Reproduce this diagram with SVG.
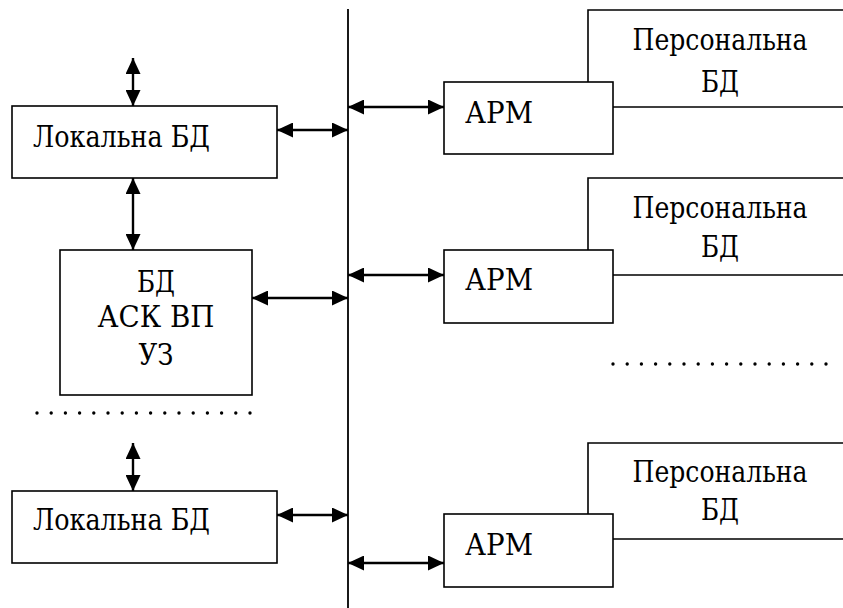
<svg xmlns="http://www.w3.org/2000/svg" width="843" height="608" viewBox="0 0 843 608">
  <style>
    .box { fill: #ffffff; stroke: #000000; stroke-width: 1.6; }
    .open { fill: none; stroke: #000000; stroke-width: 1.6; }
    .link { stroke: #000000; stroke-width: 2.4; marker-start: url(#head); marker-end: url(#head); }
    .bus { stroke: #000000; stroke-width: 1.8; }
    .dots { stroke: #000000; stroke-width: 3.4; stroke-linecap: round; stroke-dasharray: 0 14.2; }
    .lbl { font-family: "DejaVu Serif", serif; font-size: 30px; fill: #000000; }
    .c { text-anchor: middle; }
  </style>
  <defs>
    <marker id="head" viewBox="0 0 16 15" refX="16" refY="7.5" markerWidth="16" markerHeight="15" markerUnits="userSpaceOnUse" orient="auto-start-reverse">
      <path d="M0,0 L16,7.5 L0,15 Z" fill="#000000"/>
    </marker>
  </defs>
  <rect width="843" height="608" fill="#ffffff"/>

  <!-- shared bus -->
  <line class="bus" x1="348" y1="9" x2="348" y2="608"/>

  <!-- personal databases (open to the right) -->
  <g id="personal-db-1">
    <path class="open" d="M588,82 V10 H843 M613,107 H843"/>
    <text class="lbl c" x="720" y="50" textLength="175" lengthAdjust="spacingAndGlyphs">Персональна</text>
    <text class="lbl c" x="720" y="92" textLength="38" lengthAdjust="spacingAndGlyphs">БД</text>
  </g>
  <g id="personal-db-2">
    <path class="open" d="M588,250 V178 H843 M613,275 H843"/>
    <text class="lbl c" x="720" y="218" textLength="175" lengthAdjust="spacingAndGlyphs">Персональна</text>
    <text class="lbl c" x="720" y="257" textLength="38" lengthAdjust="spacingAndGlyphs">БД</text>
  </g>
  <g id="personal-db-3">
    <path class="open" d="M588,514 V443 H843 M613,539 H843"/>
    <text class="lbl c" x="720" y="482" textLength="175" lengthAdjust="spacingAndGlyphs">Персональна</text>
    <text class="lbl c" x="720" y="520" textLength="38" lengthAdjust="spacingAndGlyphs">БД</text>
  </g>

  <!-- workstations -->
  <g id="arm-1">
    <rect class="box" x="444" y="82" width="169" height="72"/>
    <text class="lbl" x="465" y="123" textLength="68" lengthAdjust="spacingAndGlyphs">АРМ</text>
  </g>
  <g id="arm-2">
    <rect class="box" x="444" y="250" width="169" height="73"/>
    <text class="lbl" x="465" y="290" textLength="68" lengthAdjust="spacingAndGlyphs">АРМ</text>
  </g>
  <g id="arm-3">
    <rect class="box" x="444" y="514" width="169" height="73"/>
    <text class="lbl" x="465" y="555" textLength="68" lengthAdjust="spacingAndGlyphs">АРМ</text>
  </g>

  <!-- local databases -->
  <g id="local-db-1">
    <rect class="box" x="12" y="106" width="265" height="72"/>
    <text class="lbl" x="33" y="147" textLength="177" lengthAdjust="spacingAndGlyphs">Локальна БД</text>
  </g>
  <g id="main-db">
    <rect class="box" x="60" y="250" width="192" height="145"/>
    <text class="lbl c" x="156" y="292" textLength="38" lengthAdjust="spacingAndGlyphs">БД</text>
    <text class="lbl c" x="156" y="327" textLength="117" lengthAdjust="spacingAndGlyphs">АСК ВП</text>
    <text class="lbl c" x="156" y="365" textLength="35" lengthAdjust="spacingAndGlyphs">УЗ</text>
  </g>
  <g id="local-db-2">
    <rect class="box" x="12" y="491" width="265" height="72"/>
    <text class="lbl" x="33" y="530" textLength="177" lengthAdjust="spacingAndGlyphs">Локальна БД</text>
  </g>

  <!-- ellipses -->
  <line class="dots" x1="37" y1="413" x2="251" y2="413"/>
  <line class="dots" x1="613" y1="364" x2="827" y2="364"/>

  <!-- connectors -->
  <g id="connectors">
    <line class="link" x1="133" y1="58" x2="133" y2="106"/>
    <line class="link" x1="277" y1="130" x2="348" y2="130"/>
    <line class="link" x1="133" y1="178" x2="133" y2="250"/>
    <line class="link" x1="252" y1="298" x2="348" y2="298"/>
    <line class="link" x1="133" y1="443" x2="133" y2="491"/>
    <line class="link" x1="277" y1="515" x2="348" y2="515"/>
    <line class="link" x1="348" y1="107" x2="444" y2="107"/>
    <line class="link" x1="348" y1="275" x2="444" y2="275"/>
    <line class="link" x1="348" y1="563" x2="444" y2="563"/>
  </g>
</svg>
